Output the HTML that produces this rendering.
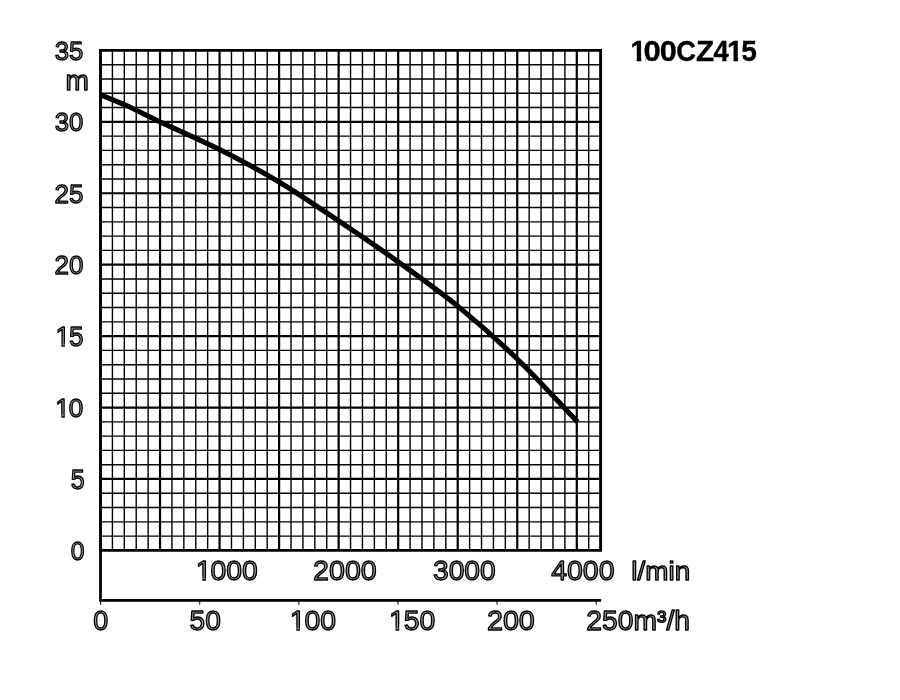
<!DOCTYPE html><html><head><meta charset="utf-8"><title>100CZ415</title>
<style>html,body{margin:0;padding:0;background:#fff}body{width:900px;height:700px;overflow:hidden}svg{display:block}text{font-family:"Liberation Sans",sans-serif}.l{fill:#989898;stroke:#000;stroke-width:1.3;stroke-linejoin:round;paint-order:normal}.t{font-weight:bold;fill:#000;stroke:#000;stroke-width:.35}</style></head><body>
<svg width="900" height="700" viewBox="0 0 900 700">
<rect width="900" height="700" fill="#fff"/>
<path d="M112.41 50.40V550.40M124.31 50.40V550.40M136.22 50.40V550.40M148.13 50.40V550.40M171.94 50.40V550.40M183.85 50.40V550.40M195.76 50.40V550.40M207.66 50.40V550.40M231.48 50.40V550.40M243.39 50.40V550.40M255.29 50.40V550.40M267.20 50.40V550.40M291.01 50.40V550.40M302.92 50.40V550.40M314.83 50.40V550.40M326.74 50.40V550.40M350.55 50.40V550.40M362.46 50.40V550.40M374.36 50.40V550.40M386.27 50.40V550.40M410.09 50.40V550.40M421.99 50.40V550.40M433.90 50.40V550.40M445.81 50.40V550.40M469.62 50.40V550.40M481.53 50.40V550.40M493.44 50.40V550.40M505.34 50.40V550.40M529.16 50.40V550.40M541.06 50.40V550.40M552.97 50.40V550.40M564.88 50.40V550.40M588.69 50.40V550.40" stroke="#000" stroke-width="1.4" fill="none"/>
<path d="M100.50 536.11H600.60M100.50 521.83H600.60M100.50 507.54H600.60M100.50 493.26H600.60M100.50 464.69H600.60M100.50 450.40H600.60M100.50 436.11H600.60M100.50 421.83H600.60M100.50 393.26H600.60M100.50 378.97H600.60M100.50 364.69H600.60M100.50 350.40H600.60M100.50 321.83H600.60M100.50 307.54H600.60M100.50 293.26H600.60M100.50 278.97H600.60M100.50 250.40H600.60M100.50 236.11H600.60M100.50 221.83H600.60M100.50 207.54H600.60M100.50 178.97H600.60M100.50 164.69H600.60M100.50 150.40H600.60M100.50 136.11H600.60M100.50 107.54H600.60M100.50 93.26H600.60M100.50 78.97H600.60M100.50 64.69H600.60" stroke="#000" stroke-width="1.4" fill="none"/>
<path d="M160.04 50.40V550.40M219.57 50.40V550.40M279.11 50.40V550.40M338.64 50.40V550.40M398.18 50.40V550.40M457.71 50.40V550.40M517.25 50.40V550.40M576.79 50.40V550.40M100.50 478.97H600.60M100.50 407.54H600.60M100.50 336.11H600.60M100.50 264.69H600.60M100.50 193.26H600.60M100.50 121.83H600.60" stroke="#000" stroke-width="2.2" fill="none"/>
<path d="M100.50 50.40H600.60V550.40H100.50Z" stroke="#000" stroke-width="2.9" fill="none" stroke-linejoin="miter"/>
<path d="M100.50 550.40V600.40H601.10" stroke="#000" stroke-width="2.8" fill="none" stroke-linejoin="miter"/>
<path d="M100.60 600.40V604.70M199.72 600.40V604.70M298.84 600.40V604.70M397.96 600.40V604.70M497.08 600.40V604.70M596.20 600.40V604.70" stroke="#000" stroke-width="1" fill="none"/>
<path d="M100.50 94.83C108.44 98.07 116.51 101.00 124.31 104.54C136.36 110.00 148.08 116.18 160.04 121.83C179.83 131.18 200.04 139.68 219.57 149.54C239.73 159.73 259.74 170.36 279.11 181.97C299.43 194.17 318.94 207.76 338.64 220.97C358.63 234.38 378.60 247.83 398.18 261.83C418.29 276.21 438.57 290.49 457.71 306.11C478.26 322.87 498.19 340.53 517.25 358.97C538.16 379.20 557.50 401.07 577.62 422.11" stroke="#000" stroke-width="5.1" fill="none" stroke-linecap="butt"/>
<text class="l" transform="translate(54.77 59.99) scale(0.9705 1)" font-size="26.55">35</text>
<text class="l" transform="translate(65.38 90.25) scale(1.0222 1)" font-size="27.50">m</text>
<text class="l" transform="translate(54.77 131.19) scale(0.9729 1)" font-size="26.41">30</text>
<text class="l" transform="translate(54.44 202.99) scale(0.9784 1)" font-size="26.55">25</text>
<text class="l" transform="translate(54.44 274.49) scale(0.9793 1)" font-size="26.55">20</text>
<clipPath id="c1"><path clip-rule="evenodd" d="M-9 -40H160V12H-9ZM0.03 -3.41H7.19V3H0.03ZM10.81 -3.41H16.51V3H10.81Z"/></clipPath>
<text class="l" transform="translate(54.41 345.89) scale(0.9687 1)" font-size="26.94" dx="1.03 -1.03" clip-path="url(#c1)">15</text>
<clipPath id="c2"><path clip-rule="evenodd" d="M-9 -40H160V12H-9ZM0.02 -3.38H7.08V3H0.02ZM10.66 -3.38H16.28V3H10.66Z"/></clipPath>
<text class="l" transform="translate(54.34 417.29) scale(0.9829 1)" font-size="26.55" dx="1.02 -1.02" clip-path="url(#c2)">10</text>
<text class="l" transform="translate(70.65 488.59) scale(0.9266 1)" font-size="27.09">5</text>
<text class="l" transform="translate(70.79 559.99) scale(0.9296 1)" font-size="26.55">0</text>
<clipPath id="c3"><path clip-rule="evenodd" d="M-9 -40H160V12H-9ZM-0.03 -3.46H7.28V3H-0.03ZM10.95 -3.46H16.79V3H10.95Z"/></clipPath>
<text class="l" transform="translate(194.80 579.98) scale(1.0275 1)" font-size="27.54" dx="0.97 -0.97" clip-path="url(#c3)">1000</text>
<text class="l" transform="translate(313.11 579.98) scale(1.0390 1)" font-size="27.54">2000</text>
<text class="l" transform="translate(432.98 579.98) scale(1.0246 1)" font-size="27.54">3000</text>
<text class="l" transform="translate(551.20 579.98) scale(1.0342 1)" font-size="27.54">4000</text>
<text class="l" transform="translate(631.37 579.79) scale(1.0451 1)" font-size="26.69">l/min</text>
<text class="l" transform="translate(93.30 629.99) scale(0.9951 1)" font-size="27.12">0</text>
<text class="l" transform="translate(189.52 630.08) scale(1.0174 1)" font-size="27.68">50</text>
<clipPath id="c4"><path clip-rule="evenodd" d="M-9 -40H160V12H-9ZM-0.03 -3.47H7.32V3H-0.03ZM11.00 -3.47H16.87V3H11.00Z"/></clipPath>
<text class="l" transform="translate(288.78 630.08) scale(1.0259 1)" font-size="27.68" dx="0.97 -0.97" clip-path="url(#c4)">100</text>
<clipPath id="c5"><path clip-rule="evenodd" d="M-9 -40H160V12H-9ZM-0.03 -3.47H7.32V3H-0.03ZM11.00 -3.47H16.87V3H11.00Z"/></clipPath>
<text class="l" transform="translate(387.98 630.08) scale(1.0259 1)" font-size="27.68" dx="0.97 -0.97" clip-path="url(#c5)">150</text>
<text class="l" transform="translate(486.90 630.08) scale(1.0386 1)" font-size="27.68">200</text>
<text class="l" transform="translate(586.33 630.09) scale(1.0491 1)" font-size="26.96">250m³/h</text>
<clipPath id="ct"><path clip-rule="evenodd" d="M600 20H800V80H600ZM630.88 56.50H636.74V62.80H630.88ZM641.30 56.50H645.70V62.80H641.30ZM727.68 56.50H733.54V62.80H727.68ZM738.10 56.50H742.90V62.80H738.10Z"/></clipPath>
<text class="t" y="60.80" font-size="30.38" clip-path="url(#ct)"><tspan x="630.30" textLength="16.05" lengthAdjust="spacingAndGlyphs">1</tspan><tspan x="643.57" textLength="17.31" lengthAdjust="spacingAndGlyphs">0</tspan><tspan x="659.79" textLength="17.07" lengthAdjust="spacingAndGlyphs">0</tspan><tspan x="676.28" textLength="19.66" lengthAdjust="spacingAndGlyphs">C</tspan><tspan x="695.92" textLength="18.14" lengthAdjust="spacingAndGlyphs">Z</tspan><tspan x="713.58" textLength="15.37" lengthAdjust="spacingAndGlyphs">4</tspan><tspan x="727.10" textLength="16.05" lengthAdjust="spacingAndGlyphs">1</tspan><tspan x="741.13" textLength="15.65" lengthAdjust="spacingAndGlyphs">5</tspan></text>
</svg></body></html>
